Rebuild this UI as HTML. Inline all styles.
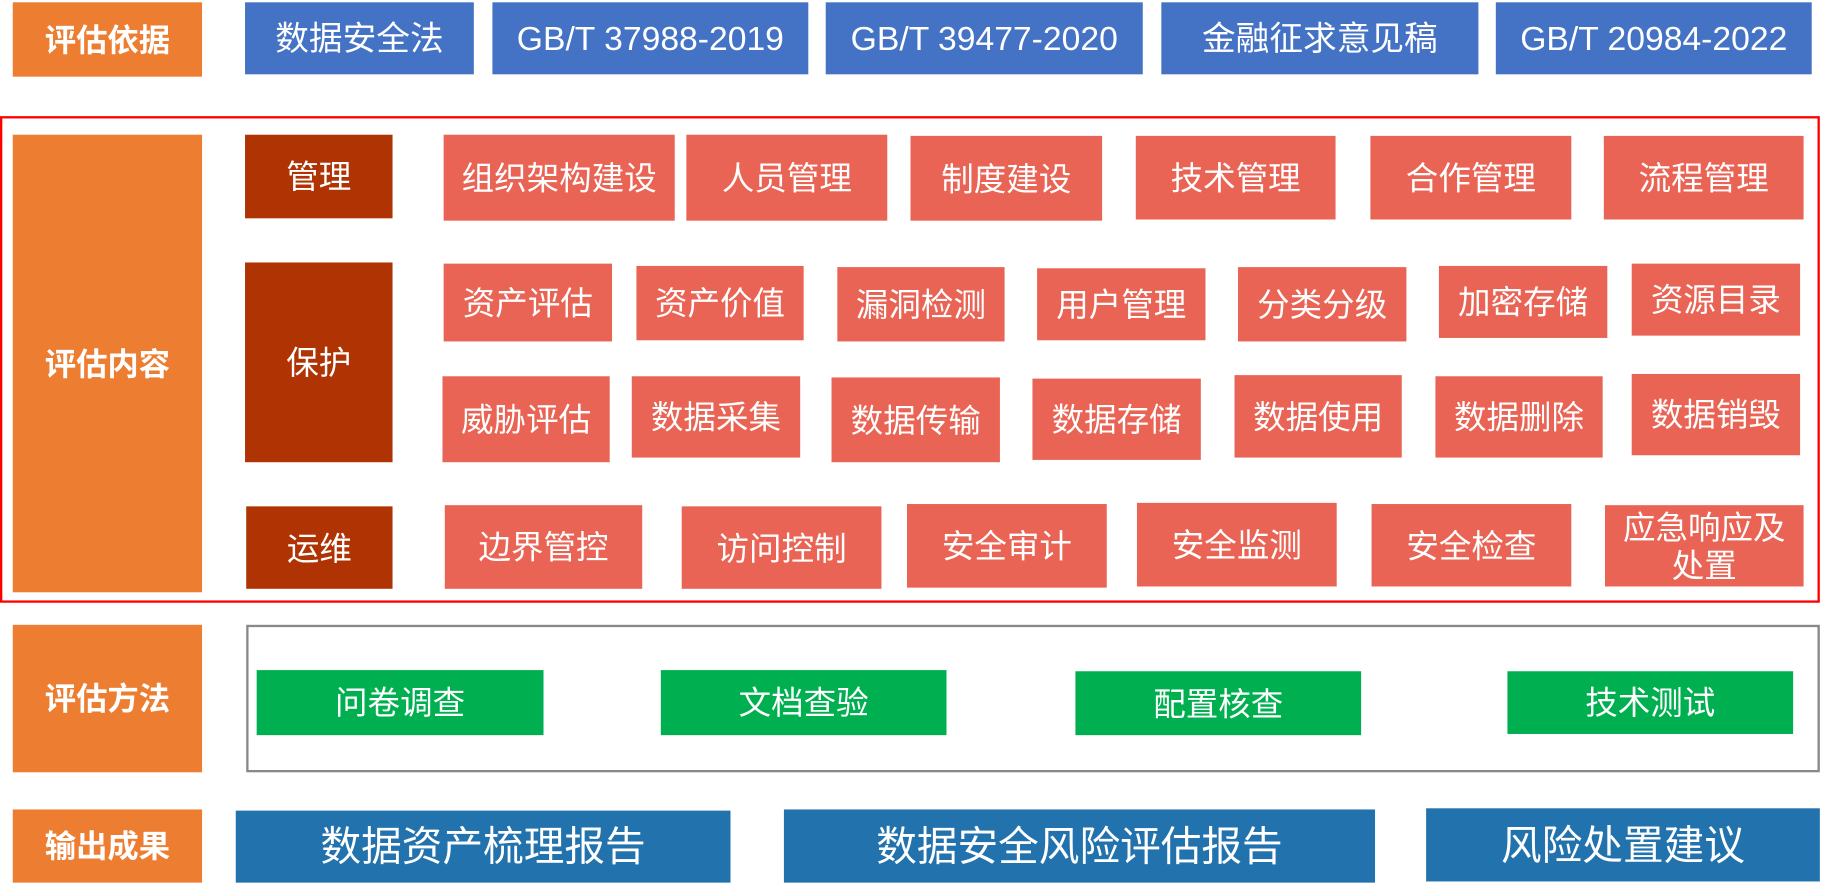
<!DOCTYPE html>
<html><head><meta charset="utf-8"><style>
html,body{margin:0;padding:0;background:#fff;width:1821px;height:892px;overflow:hidden}
#c{position:absolute;left:0;top:0;width:1568px;height:768px;transform:scale(1.16135);transform-origin:0 0;font-family:"Liberation Sans","Noto Sans CJK SC",sans-serif}
.b{position:absolute;display:flex;align-items:center;justify-content:center;text-align:center;color:#fff;box-sizing:border-box;line-height:1.15;padding-top:3px}
.o{background:#ed7d31;font-weight:bold;font-size:27px}
.bl{background:#4472c4;font-size:29px}
.s{background:#e96455;font-size:28px}
.d{background:#b03403;font-size:28px}
.g{background:#00b050;font-size:28px}
.ob{background:#2172ad;font-size:35px}
</style></head><body><div id="c">
<div class="b o" style="left:11px;top:2px;width:163px;height:64px">评估依据</div>
<div class="b bl" style="left:211px;top:2px;width:197px;height:62px">数据安全法</div>
<div class="b bl" style="left:424px;top:2px;width:272px;height:62px">GB/T 37988-2019</div>
<div class="b bl" style="left:711px;top:2px;width:273px;height:62px">GB/T 39477-2020</div>
<div class="b bl" style="left:1000px;top:2px;width:273px;height:62px">金融征求意见稿</div>
<div class="b bl" style="left:1288px;top:2px;width:272px;height:62px">GB/T 20984-2022</div>

<div style="position:absolute;left:0;top:100px;width:1567px;height:419px;border:2px solid #f00;box-sizing:border-box"></div>
<div class="b o" style="left:11px;top:116px;width:163px;height:394px">评估内容</div>
<div class="b d" style="left:211px;top:116px;width:127px;height:72px">管理</div>
<div class="b d" style="left:211px;top:226px;width:127px;height:172px">保护</div>
<div class="b d" style="left:212px;top:436px;width:126px;height:71px">运维</div>

<div class="b s" style="left:382px;top:116px;width:199px;height:74px">组织架构建设</div>
<div class="b s" style="left:591px;top:116px;width:173px;height:74px">人员管理</div>
<div class="b s" style="left:784px;top:117px;width:165px;height:73px">制度建设</div>
<div class="b s" style="left:978px;top:117px;width:172px;height:72px">技术管理</div>
<div class="b s" style="left:1180px;top:117px;width:173px;height:72px">合作管理</div>
<div class="b s" style="left:1381px;top:117px;width:172px;height:72px">流程管理</div>

<div class="b s" style="left:382px;top:227px;width:145px;height:67px">资产评估</div>
<div class="b s" style="left:548px;top:229px;width:144px;height:64px">资产价值</div>
<div class="b s" style="left:721px;top:230px;width:144px;height:64px">漏洞检测</div>
<div class="b s" style="left:893px;top:231px;width:145px;height:62px">用户管理</div>
<div class="b s" style="left:1066px;top:230px;width:145px;height:64px">分类分级</div>
<div class="b s" style="left:1239px;top:229px;width:145px;height:62px">加密存储</div>
<div class="b s" style="left:1405px;top:227px;width:145px;height:62px">资源目录</div>

<div class="b s" style="left:381px;top:324px;width:144px;height:74px">威胁评估</div>
<div class="b s" style="left:544px;top:324px;width:145px;height:70px">数据采集</div>
<div class="b s" style="left:716px;top:325px;width:145px;height:73px">数据传输</div>
<div class="b s" style="left:889px;top:326px;width:145px;height:70px">数据存储</div>
<div class="b s" style="left:1063px;top:323px;width:144px;height:71px">数据使用</div>
<div class="b s" style="left:1236px;top:324px;width:144px;height:70px">数据删除</div>
<div class="b s" style="left:1405px;top:322px;width:145px;height:70px">数据销毁</div>

<div class="b s" style="left:383px;top:435px;width:170px;height:72px">边界管控</div>
<div class="b s" style="left:587px;top:436px;width:172px;height:71px">访问控制</div>
<div class="b s" style="left:781px;top:434px;width:172px;height:72px">安全审计</div>
<div class="b s" style="left:979px;top:433px;width:172px;height:72px">安全监测</div>
<div class="b s" style="left:1181px;top:434px;width:172px;height:71px">安全检查</div>
<div class="b s" style="left:1382px;top:435px;width:171px;height:70px">应急响应及<br>处置</div>

<div class="b o" style="left:11px;top:538px;width:163px;height:127px">评估方法</div>
<div style="position:absolute;left:212px;top:538px;width:1355px;height:127px;border:2px solid #888;box-sizing:border-box"></div>
<div class="b g" style="left:221px;top:577px;width:247px;height:56px">问卷调查</div>
<div class="b g" style="left:569px;top:577px;width:246px;height:56px">文档查验</div>
<div class="b g" style="left:926px;top:578px;width:246px;height:55px">配置核查</div>
<div class="b g" style="left:1298px;top:578px;width:246px;height:54px">技术测试</div>

<div class="b o" style="left:11px;top:697px;width:163px;height:63px">输出成果</div>
<div class="b ob" style="left:203px;top:698px;width:426px;height:62px">数据资产梳理报告</div>
<div class="b ob" style="left:675px;top:697px;width:509px;height:63px">数据安全风险评估报告</div>
<div class="b ob" style="left:1228px;top:696px;width:339px;height:63px">风险处置建议</div>
</div></body></html>
